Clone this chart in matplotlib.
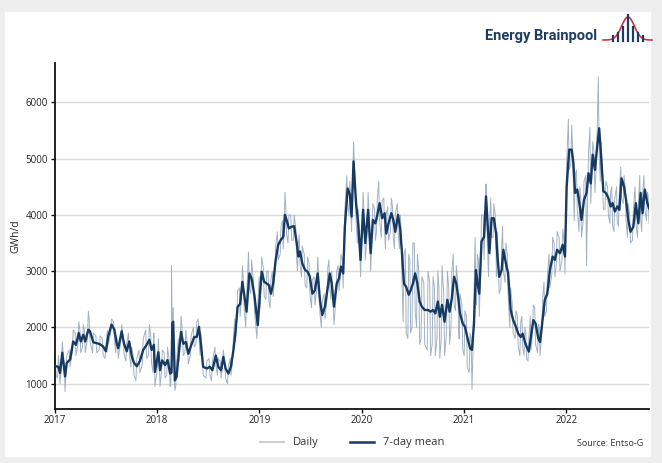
import matplotlib
matplotlib.use("Agg")
import matplotlib.pyplot as plt
from matplotlib.lines import Line2D
from matplotlib.patches import Rectangle
import numpy as np
import pandas as pd

# ---------------- data ----------------
start_date = "2017-01-01"
# day offsets from 2017-01-01 of the 7-day mean readings
mean_days = [
    4, 12, 18, 26, 36, 42, 54, 65, 75, 85, 92, 101, 108, 119, 125, 137, 149, 161, 172, 182,
    190, 202, 212, 220, 226, 238, 246, 256, 265, 274, 282, 292, 303, 315, 327, 337, 345, 353, 357,
    369, 375, 383, 393, 402, 411, 416, 419, 422, 428, 434, 443, 450, 458, 467, 476, 486, 497, 506,
    514, 521, 529, 542, 553, 562, 574, 583, 593, 601, 609, 619, 628, 637, 645, 652, 661, 669, 676,
    684, 694, 702, 712, 724,
    732, 738, 747, 756, 764, 771, 779, 788, 797, 807, 815, 821, 827, 835, 845, 854, 863, 869, 875,
    883, 893, 902, 910, 919, 928, 938, 946, 954, 964, 974, 981, 988, 996, 1006, 1014, 1021, 1029,
    1035, 1045, 1053, 1059, 1066, 1075, 1083,
    1091, 1100, 1108, 1118, 1127, 1135, 1144, 1151, 1159, 1168, 1177, 1183, 1191, 1201, 1208, 1215,
    1225, 1233, 1239, 1246, 1254, 1263, 1270, 1278, 1286, 1294, 1302, 1310, 1320, 1332, 1341, 1350,
    1358, 1367, 1374, 1382, 1391, 1401, 1409, 1417, 1425, 1433, 1441, 1446,
    1456, 1464, 1472, 1482, 1489, 1496, 1503, 1508, 1515, 1523, 1532, 1539, 1544, 1551, 1559, 1567,
    1575, 1579, 1586, 1595, 1601, 1610, 1618, 1627, 1636, 1646, 1654, 1663, 1670, 1678, 1684, 1692,
    1700, 1708, 1716, 1726, 1732, 1741, 1749, 1758, 1767, 1777, 1785, 1793, 1803, 1813, 1821,
    1827, 1836, 1845, 1851, 1857, 1865, 1874, 1880, 1889, 1898, 1905, 1913, 1920, 1928, 1936, 1943,
    1950, 1958, 1967, 1976, 1984, 1991, 1999, 2008, 2015, 2023, 2032, 2039, 2047, 2055, 2065, 2074,
    2083, 2091, 2098, 2106, 2115, 2121,
]
# 7-day mean (GWh/d)
mean_vals = [
    1310, 1300, 1190, 1550, 1130, 1370, 1430, 1750, 1690, 1900, 1750, 1870, 1750, 1960, 1930, 1735, 1720, 1700, 1660, 1575,
    1840, 2050, 1960, 1720, 1630, 1930, 1720, 1575, 1750, 1490, 1370, 1310, 1400, 1600, 1690, 1780, 1600, 1690, 1210,
    1560, 1240, 1415, 1330, 1420, 1180, 1200, 2070, 2100, 1060, 1120, 1590, 1920, 1710, 1740, 1530, 1680, 1830, 1830,
    2010, 1710, 1300, 1270, 1300, 1240, 1500, 1300, 1240, 1475, 1270, 1180, 1300, 1590, 1950, 2365, 2420, 2810, 2570,
    2280, 2960, 2870, 2570, 2040,
    2600, 2990, 2810, 2780, 2750, 2600, 2780, 3200, 3470, 3560, 3610, 4000, 3910, 3760, 3790, 3800, 3500, 3260, 3350,
    3140, 3020, 2990, 2900, 2600, 2660, 2960, 2490, 2220, 2370, 2720, 2960, 2780, 2370, 2780, 2870, 3080, 2960,
    3790, 4470, 4360, 3970, 4950, 4210, 3820,
    3200, 4090, 3500, 4090, 3320, 3910, 3850, 4000, 4210, 3940, 4030, 3670, 3850, 4030, 3910, 3700,
    4000, 3730, 3320, 2780, 2720, 2580, 2660, 2780, 2960, 2780, 2460, 2370, 2310, 2310, 2280, 2310,
    2250, 2460, 2190, 2400, 2100, 2490, 2280, 2520, 2900, 2780, 2490, 2250,
    2070, 2010, 1830, 1630, 1600, 2070, 3020, 2810, 2600, 3530, 3610, 4330, 3910, 3320, 3940, 3940,
    3670, 3320, 2900, 3020, 3380, 3140, 2960, 2310, 2130, 2010, 1890, 1830, 1890, 1740, 1660, 1570,
    1860, 2130, 2070, 1800, 1740, 2130, 2490, 2600, 3020, 3260, 3200, 3380, 3320, 3470, 3260,
    4500, 5160, 5160, 4920, 4390, 4450, 4150, 3910, 4270, 4390, 4740, 4560, 5070, 4800, 5220, 5540,
    5040, 4420, 4390, 4300, 4150, 4210, 4060, 4150, 4090, 4650, 4500, 4270, 3910, 3700, 3790, 4210,
    3850, 4390, 4030, 4450, 4210, 4120,
]
# daily values: upper and lower daily readings around each mean reading
daily_hi = [
    1450, 1500, 1350, 1750, 1300, 1500, 1600, 1950, 1900, 2100, 1950, 2050, 1950, 2290, 2150, 1900, 1850, 1850, 1800, 1700,
    1950, 2150, 2100, 1850, 1750, 2050, 1850, 1700, 1900, 1650, 1500, 1450, 1600, 1800, 1950, 2050, 1850, 1900, 1450,
    1800, 1450, 1600, 1550, 1650, 1400, 1350, 3100, 2350, 1250, 1350, 1800, 2200, 1950, 1950, 1700, 1850, 2000, 2100,
    2150, 1900, 1450, 1400, 1450, 1400, 1650, 1450, 1400, 1600, 1400, 1300, 1450, 1800, 2150, 2650, 2700, 3100, 2800,
    2500, 3340, 3200, 2800, 2400,
    2900, 3250, 3050, 3000, 3000, 2850, 3000, 3450, 3700, 3800, 3900, 4400, 4150, 4000, 4000, 4000, 3750, 3500, 3650,
    3450, 3300, 3250, 3150, 2850, 2900, 3250, 2750, 2450, 2600, 3050, 3200, 3000, 2600, 3000, 3100, 3300, 3200,
    4100, 4700, 4600, 4300, 5300, 4500, 4100,
    3500, 4400, 3900, 4400, 3700, 4200, 4100, 4300, 4600, 4250, 4300, 4000, 4150, 4300, 4150, 4000,
    4200, 4000, 3700, 3300, 3400, 3300, 3200, 3500, 3500, 3300, 3000, 2900, 2800, 3000, 2800, 2900,
    2700, 3000, 2700, 3100, 2600, 3000, 2700, 3000, 3300, 3100, 2800, 2600,
    2400, 2300, 2200, 1900, 1800, 2500, 3600, 3300, 3200, 4000, 4000, 4550, 4300, 3800, 4300, 4200,
    4000, 3700, 3300, 3400, 3800, 3500, 3300, 2700, 2400, 2300, 2200, 2100, 2200, 2000, 1900, 1800,
    2200, 2400, 2350, 2050, 2000, 2500, 2800, 2900, 3300, 3600, 3500, 3700, 3600, 3750, 3500,
    4900, 5700, 5600, 5200, 4700, 4800, 4500, 4300, 4600, 4700, 5100, 5550, 5300, 5100, 5500, 6460,
    5300, 4700, 4600, 4500, 4400, 4500, 4300, 4500, 4400, 4850, 4700, 4500, 4200, 4000, 4050, 4500,
    4150, 4700, 4350, 4700, 4400, 4350,
]
daily_lo = [
    1150, 1100, 1000, 1350, 860, 1200, 1300, 1600, 1500, 1700, 1550, 1650, 1550, 1800, 1750, 1550, 1550, 1600, 1500, 1450,
    1700, 1900, 1800, 1550, 1450, 1750, 1550, 1400, 1550, 1300, 1150, 1050, 1200, 1350, 1450, 1500, 1350, 1200, 950,
    1300, 950, 1200, 1100, 1150, 950, 1000, 1800, 1900, 880, 950, 1400, 1700, 1500, 1550, 1350, 1500, 1650, 1700,
    1850, 1500, 1150, 1100, 1150, 1050, 1350, 1150, 1100, 1300, 1100, 1000, 1150, 1400, 1750, 2150, 2200, 2550, 2300,
    2000, 2700, 2600, 2300, 1800,
    2350, 2750, 2550, 2500, 2450, 2350, 2550, 2950, 3200, 3300, 3400, 3700, 3650, 3500, 3550, 3550, 3200, 3000, 3100,
    2900, 2750, 2700, 2600, 2350, 2400, 2700, 2250, 2000, 2150, 2500, 2700, 2500, 2050, 2500, 2650, 2850, 2700,
    3500, 4200, 4000, 3700, 4600, 3900, 3500,
    2900, 3800, 3200, 3700, 3000, 3600, 3550, 3700, 3900, 3600, 3700, 3400, 3550, 3700, 3600, 3400,
    3700, 3400, 2900, 2100, 1900, 1800, 1900, 2000, 2300, 2000, 1700, 1800, 1700, 1600, 1500, 1700,
    1500, 1800, 1450, 1800, 1500, 1900, 1700, 2000, 2400, 2300, 2000, 1800,
    1600, 1500, 1300, 1200, 900, 1700, 2600, 2400, 2200, 3100, 3200, 3900, 3500, 2900, 3600, 3600,
    3300, 2900, 2600, 2700, 3000, 2800, 2600, 2000, 1900, 1800, 1650, 1500, 1650, 1500, 1450, 1400,
    1600, 1900, 1700, 1550, 1500, 1900, 2200, 2300, 2700, 2950, 2900, 3100, 3000, 3200, 2950,
    4100, 4800, 4900, 4500, 3900, 4100, 3700, 3600, 3900, 3100, 4400, 4200, 4700, 4400, 4900, 5100,
    4600, 4100, 4100, 4000, 3850, 3800, 3700, 3850, 3800, 4300, 4200, 3900, 3600, 3500, 3550, 3850,
    3600, 3950, 3700, 4100, 3900, 3850,
]

y_ticks = [1000, 2000, 3000, 4000, 5000, 6000]
x_tick_years = ["2017", "2018", "2019", "2020", "2021", "2022"]
legend_labels = ["Daily", "7-day mean"]
source_text = "Source: Entso-G"
brand_text = "Energy Brainpool"

assert len(mean_days) == len(mean_vals) == len(daily_hi) == len(daily_lo)

# ---------------- build series ----------------
t0 = pd.Timestamp(start_date)
mean_dates = t0 + pd.to_timedelta(mean_days, unit="D")
d_days, d_vals = [], []
for i, (d, hi, lo) in enumerate(zip(mean_days, daily_hi, daily_lo)):
    d_days += [d - 3, d]
    d_vals += [hi, lo] if i % 2 == 0 else [lo, hi]
daily_dates = t0 + pd.to_timedelta(d_days, unit="D")

# ---------------- figure ----------------
W, H = 662, 463
plt.rcParams["font.family"] = ["Open Sans", "DejaVu Sans"]
fig = plt.figure(figsize=(W / 100, H / 100), dpi=100, facecolor="#eeeeee")

def fx(x):
    return np.asarray(x) / W

def fy(y):
    return 1 - np.asarray(y) / H

fig.patches.append(Rectangle((fx(5), fy(457)), fx(651) - fx(5), fy(12) - fy(457),
                             transform=fig.transFigure, facecolor="white",
                             edgecolor="none", zorder=-10))

ax = fig.add_axes([fx(55), fy(409), fx(649) - fx(55), fy(63) - fy(409)])
ax.set_facecolor("white")

navy = "#173a63"
ax.plot(daily_dates, d_vals, color="#98aabd", lw=0.7, alpha=0.9, zorder=2)
ax.plot(mean_dates, mean_vals, color=navy, lw=1.7, zorder=3)

ax.set_ylim(550, 6700)
ax.set_xlim(pd.Timestamp("2017-01-01"), pd.Timestamp("2022-10-23"))
ax.set_yticks(y_ticks)
ax.set_yticklabels([str(v) for v in y_ticks])
ax.set_xticks([pd.Timestamp(f"{y}-01-01") for y in x_tick_years])
ax.set_xticklabels(x_tick_years)
ax.yaxis.grid(True, color="#d9d9d9", lw=1.0, zorder=0)
ax.set_axisbelow(True)
for s in ["top", "right"]:
    ax.spines[s].set_visible(False)
for s in ["left", "bottom"]:
    ax.spines[s].set_color("#111111")
    ax.spines[s].set_linewidth(1.3)
ax.tick_params(axis="y", labelsize=7, length=3, width=1, color="#111111",
               labelcolor="#222222", pad=2)
ax.tick_params(axis="x", labelsize=7, length=3, width=1, color="#111111",
               labelcolor="#222222", pad=1.5)
ax.set_ylabel("GWh/d", fontsize=7.5, color="#222222", labelpad=3)

# legend
handles = [Line2D([0], [0], color="#cfcfcf", lw=1.5),
           Line2D([0], [0], color=navy, lw=1.8)]
fig.legend(handles, legend_labels, loc="center", bbox_to_anchor=(fx(352), fy(443)),
           ncol=2, frameon=False, fontsize=8, handlelength=2.2, columnspacing=2.8,
           labelcolor="#333333")
fig.text(fx(643), fy(443), source_text, ha="right", va="center", fontsize=6.5,
         color="#333333")

# brand logo
fig.text(fx(597), fy(36), brand_text, ha="right", va="center", fontsize=10.5,
         fontweight="bold", color="#1d3b63", family=["Roboto", "DejaVu Sans"])
lx = np.linspace(603, 652, 60)
ly = 40 - 23 * np.exp(-((lx - 628) / 9.0) ** 2)
fig.add_artist(Line2D(fx(lx), fy(ly), transform=fig.transFigure, color="#d0343c", lw=1.2))
bar_x = [613, 618, 623, 628, 633, 638, 643]
bar_top = [36, 33, 27, 15, 27, 33, 36]
for bx, bt in zip(bar_x, bar_top):
    fig.add_artist(Line2D([fx(bx), fx(bx)], [fy(41), fy(bt)], transform=fig.transFigure,
                          color="#1d3b63", lw=1.6))

fig.savefig("out.png", dpi=100, facecolor=fig.get_facecolor())
